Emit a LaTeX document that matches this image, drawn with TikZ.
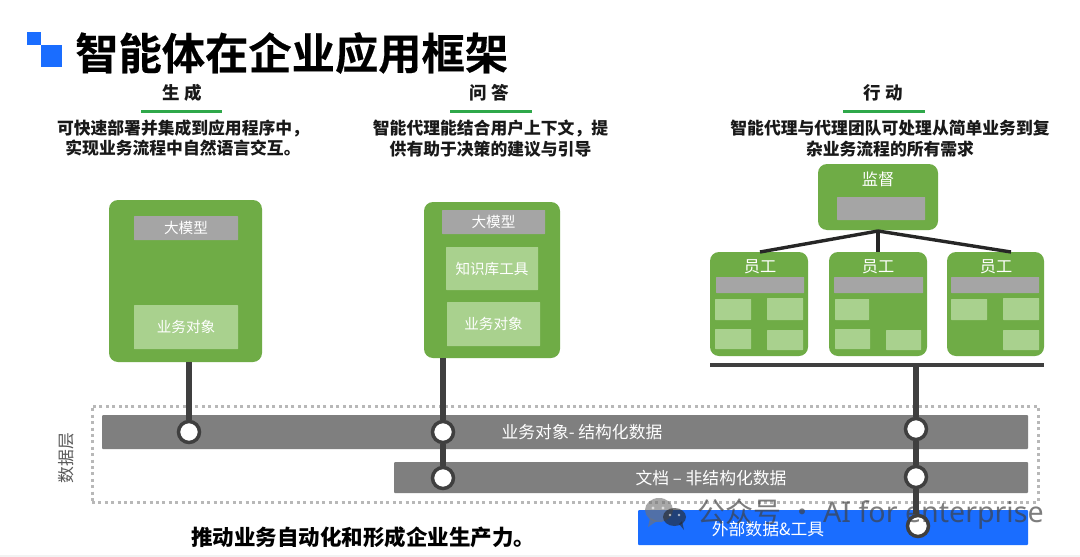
\documentclass[tikz,border=0pt]{standalone}
\usepackage{fontspec}
\setmainfont{Noto Sans CJK SC}
\newfontfamily\titlefont[FakeBold=0.35]{Noto Sans CJK SC Bold}
\newfontfamily\wmfont{Noto Sans}
\definecolor{cardgreen}{HTML}{6FAC46}
\definecolor{lightgreen}{HTML}{A9D18E}
\definecolor{headgreen}{HTML}{2FA84A}
\definecolor{labelgray}{HTML}{A5A5A5}
\definecolor{bargray}{HTML}{7F7F7F}
\definecolor{linedark}{HTML}{3F3F3F}
\definecolor{brandblue}{HTML}{1A6DFF}
\newcommand{\fs}[2]{\fontsize{#1}{#2}\selectfont}
\newcommand{\pbox}[7]{%
  \pgfmathsetmacro\bw{#4-#2}\pgfmathsetmacro\bh{#5-#3}%
  \node[#6,minimum width=\bw pt,minimum height=\bh pt] (#1) at ({(#2+#4)/2},{(#3+#5)/2}) {#7};}
\tikzset{
  plain/.style={inner sep=0pt,outer sep=0pt,text=white,font=\fs{14.6}{16}},
  card/.style={plain,fill=cardgreen,rounded corners=9pt},
  model/.style={plain,fill=labelgray,rounded corners=0.5pt},
  tool/.style={plain,fill=lightgreen,rounded corners=0.5pt},
  databar/.style={plain,fill=bargray,rounded corners=1pt},
  extbar/.style={plain,fill=brandblue,rounded corners=1pt},
  barlabel/.style={inner sep=0pt,text=white,font=\fs{16.8}{18}},
  cardlabel/.style={inner sep=0pt,text=white,font=\fs{16.2}{18}},
  heading/.style={inner sep=0pt,font=\fs{17.5}{20}\bfseries,text=black!90},
  desc/.style={inner sep=0pt,align=center,font=\fs{16.8}{20.5}\bfseries,text=black!90},
  rule/.style={fill=headgreen,inner sep=0pt,outer sep=0pt},
  joint/.style={circle,draw=linedark,line width=3.5pt,fill=white,minimum size=21pt,inner sep=0pt},
  conn/.style={draw=linedark,line width=6.5pt},
  branch/.style={draw=black!85,line width=3.4pt},
  wmark/.style={inner sep=0pt,text=black!75,opacity=.68}
}
\begin{document}
\begin{tikzpicture}[x=1pt,y=-1pt]
\useasboundingbox (0,0) rectangle (1080,557);
\fill[white] (0,0) rectangle (1080,557);
\fill[black!5] (0,555) rectangle (1080,557);
% brand mark and title
\pbox{logoa}{27}{32}{41}{45}{plain,fill=brandblue}{}
\pbox{logob}{41}{45}{62}{67}{plain,fill=brandblue}{}
\node[inner sep=0pt,anchor=west,font=\titlefont\fs{43.3}{46},text=black] (title) at (75,53) {智能体在企业应用框架};
% headings
\node[heading] (h1) at (182,93) {生\hspace{5pt}成};
\node[heading] (h2) at (489,93) {问\hspace{5pt}答};
\node[heading] (h3) at (883,93) {行\hspace{5pt}动};
\pbox{r1}{141}{110}{222}{113}{rule}{}
\pbox{r2}{450}{110}{532}{113}{rule}{}
\pbox{r3}{843}{110}{925}{113}{rule}{}
\node[desc] (d1) at (183,138) {可快速部署并集成到应用程序中，\\实现业务流程中自然语言交互。};
\node[desc] (d2) at (490.5,138.5) {智能代理能结合用户上下文，提\\供有助于决策的建议与引导};
\node[desc] (d3) at (890,138.5) {智能代理与代理团队可处理从简单业务到复\\杂业务流程的所有需求};
% data layer
\node[draw=black!28,line width=3pt,dash pattern=on 3pt off 3.4pt,minimum width=946pt,minimum height=96pt,inner sep=0pt] (layer) at (565,454) {};
\node[inner sep=0pt,rotate=90,font=\fs{16.8}{18},text=black!65] (layerlab) at (66,458) {数据层};
\pbox{bar1}{102}{415}{1028}{449}{databar}{}
\pbox{bar2}{394}{462}{1028}{493}{databar}{}
\pbox{bar3}{638}{510}{1028}{545}{extbar}{}
\node[barlabel] (t1) at (582,432) {业务对象- 结构化数据};
\node[barlabel] (t2) at (711,478) {文档 – 非结构化数据};
\node[barlabel] (t3) at (768,529) {外部数据\&工具};
% agent cards
\pbox{card1}{109}{200}{262}{362}{card}{}
\pbox{m1}{134}{216}{238}{240}{model}{大模型}
\pbox{o1}{134}{305}{238}{349}{tool}{业务对象}
\pbox{card2}{424}{202}{560}{358}{card}{}
\pbox{m2}{442}{210}{545}{234}{model}{大模型}
\pbox{k2}{446}{247}{538}{290}{tool}{知识库工具}
\pbox{o2}{447}{302}{540}{346}{tool}{业务对象}
% supervisor
\pbox{sup}{818}{164}{938}{230}{card}{}
\pbox{supg}{837}{197}{925}{220}{model}{}
\node[cardlabel] (suplab) at (878,179) {监督};
% workers
\pbox{w1}{710}{252}{808}{356}{card}{}
\pbox{w2}{829}{252}{927}{356}{card}{}
\pbox{w3}{947}{252}{1044}{356}{card}{}
\node[cardlabel] (w1lab) at (760,267) {员工};
\node[cardlabel] (w2lab) at (878,267) {员工};
\node[cardlabel] (w3lab) at (996,267) {员工};
\pbox{w1g}{716}{277}{804}{293}{model}{}
\pbox{w2g}{834}{277}{923}{293}{model}{}
\pbox{w3g}{951}{277}{1039}{293}{model}{}
\pbox{w1a}{715}{299}{751}{320}{tool}{}
\pbox{w1b}{767}{298}{803}{320}{tool}{}
\pbox{w1c}{715}{329}{751}{349}{tool}{}
\pbox{w1d}{767}{330}{803}{350}{tool}{}
\pbox{w2a}{835}{299}{869}{320}{tool}{}
\pbox{w2c}{835}{329}{870}{349}{tool}{}
\pbox{w2d}{886}{330}{921}{350}{tool}{}
\pbox{w3a}{951}{299}{987}{320}{tool}{}
\pbox{w3b}{1003}{298}{1039}{320}{tool}{}
\pbox{w3d}{1003}{330}{1039}{350}{tool}{}
% supervisor branches
\coordinate (supfoot) at (878,231);
\coordinate (w1top) at (760,252);
\coordinate (w3top) at (1011,252);
\draw[branch] (supfoot) -- (w1top);
\draw[branch] (supfoot) -- (supfoot |- w2.north);
\draw[branch] (supfoot) -- (w3top);
% team bus
\pbox{bus}{710}{362.5}{1044}{366.5}{plain,fill=linedark}{}
% joints
\node[joint] (j1) at (189,432) {};
\node[joint] (j2) at (443,432) {};
\node[joint] (j3) at (443,478) {};
\node[joint] (j4) at (916,429) {};
\node[joint] (j5) at (916,477) {};
\node[joint] (j6) at (918,526) {};
% connectors (ending at joint borders)
\draw[conn] (j1 |- card1.south) -- (j1.north);
\draw[conn] (j2 |- card2.south) -- (j2.north);
\draw[conn] (j2.south) -- (j3.north);
\draw[conn] (j4 |- bus.south) -- (j4.north);
\draw[conn] (j4.south) -- (j5.north);
\draw[conn] (j5.south) -- (j5 |- j6.north);
% closing line
\node[inner sep=0pt,anchor=west,font=\fs{21.5}{24}\bfseries,text=black] (bottom) at (191,537) {推动业务自动化和形成企业生产力。};
% watermark
\begin{scope}[opacity=.62]
\fill[black!55] (659,510) ellipse (14pt and 12pt);
\fill[black!55] (650,518) -- (648,527) -- (657,521) -- cycle;
\fill[black!85] (674.5,517) ellipse (11.5pt and 9pt);
\fill[black!85] (679,524) -- (684,530) -- (682,521) -- cycle;
\fill[white] (653,508) circle (1.6pt) (663,508) circle (1.6pt) (670,515) circle (1.3pt) (679,515) circle (1.3pt);
\end{scope}
\node[wmark,anchor=west,font=\fs{28}{30}] (wm) at (697,514) {公众号\hspace{7pt}·\hspace{7pt}{\wmfont\fs{28.6}{30}AI for enterprise}};
\end{tikzpicture}
\end{document}
